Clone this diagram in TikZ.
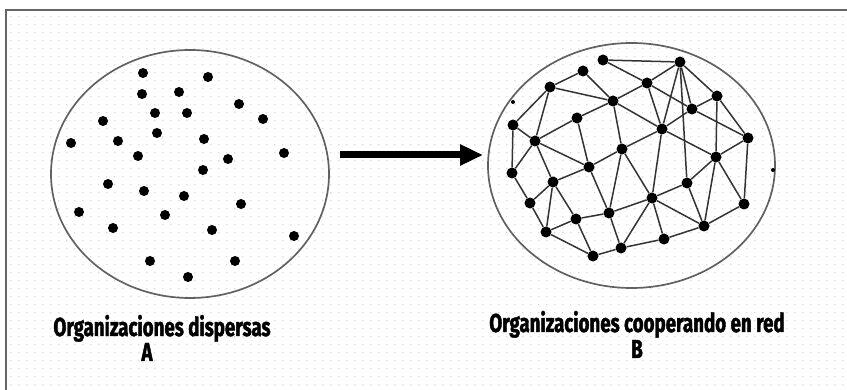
\documentclass[tikz,border=0pt]{standalone}
\usepackage{fontspec}
\newfontfamily\labelfont[FakeStretch=0.72, BoldFeatures={FakeBold=1.6}]{Fira Sans}
\usetikzlibrary{shapes.geometric,arrows.meta,positioning}

\begin{document}
\begin{tikzpicture}[x=1pt, y=-1pt,
    org/.style={draw=black!62, line width=1.7pt, ellipse, inner sep=0pt},
    dot/.style={circle, fill=black, inner sep=0pt, minimum size=10pt},
    tick/.style={circle, fill=black, inner sep=0pt, minimum size=4pt},
    link/.style={draw=black!80, line width=1.5pt},
    caption/.style={font=\labelfont\bfseries\fontsize{26}{26}\selectfont, inner sep=0pt, anchor=base},
    bigarrow/.style={-{Triangle[length=23pt, width=20pt]}, line width=7pt}
]
    \useasboundingbox (0,0) rectangle (847,390);

    % dotted paper and frame
    \fill[gray!30] \foreach \gx in {10,18,...,846} {\foreach \gy in {16,24,...,388} {(\gx,\gy) rectangle ++(1.4,1.4)}};
    \draw[black!60, line width=2pt] (6,390) -- (6,10) -- (847,10);

    % A: scattered organizations
    \node[org, minimum width=278pt, minimum height=248pt] (orgA) at (190,174) {};
    \foreach \x/\y [count=\i] in {143/73, 208/77, 142/94, 179/92, 239/104, 155/113, 187/113, 263/119,
        103/121, 157/133, 71/143, 118/141, 204/139, 138/156, 228/159, 284/153, 203/170, 108/184,
        144/191, 184/196, 241/204, 79/212, 165/215, 113/228, 212/230, 294/236, 150/261, 235/261, 188/277}
        \node[dot] (a\i) at (\x,\y) {};

    % B: organizations in a network
    \node[org, minimum width=287pt, minimum height=245pt] (orgB) at (631.5,165.5) {};
    \foreach \x/\y [count=\i] in {603/60, 680/62, 583/71, 550/87, 647/83, 613/101, 717/96, 692/109,
        577/118, 513/125, 662/129, 535/141, 748/138, 622/149, 716/157, 589/167, 512/173, 553/182,
        687/183, 652/198, 744/204, 530/203, 609/213, 576/219, 704/226, 546/232, 664/239, 621/248, 593/256}
        \node[dot, minimum size=11pt] (n\i) at (\x,\y) {};
    \node[tick] (e1) at (513,102) {};
    \node[tick] (e2) at (773,170) {};

    \foreach \a/\b in {1/2, 1/5, 3/4, 3/6, 4/6, 4/10, 4/12, 2/5, 2/7, 2/8, 2/11, 2/19, 5/6, 5/8, 5/11,
        6/9, 6/11, 6/14, 7/8, 7/13, 7/15, 8/11, 8/13, 9/12, 9/16, 10/12, 10/17, 11/14, 11/15, 11/20,
        12/16, 12/17, 12/18, 13/21, 13/15, 14/16, 14/20, 14/23, 15/19, 15/21, 15/25, 16/18, 16/23,
        17/22, 18/22, 18/24, 18/26, 19/20, 19/25, 20/23, 20/25, 20/27, 20/28, 21/25, 22/26, 23/24,
        23/28, 24/26, 24/29, 25/27, 26/29, 27/28, 28/29}
        \draw[link] (n\a) -- (n\b);

    % arrow from A to B
    \coordinate (arrS) at (340,155);
    \coordinate (arrE) at (483,155);
    \draw[bigarrow] (arrS) -- (arrE);

    % captions
    \node[caption] (capA) at (162,336) {Organizaciones dispersas};
    \node[caption] (lblA) at (147,361) {A};
    \node[caption] (capB) at (637,332) {Organizaciones cooperando en red};
    \node[caption] (lblB) at (637,358) {B};
\end{tikzpicture}
\end{document}
